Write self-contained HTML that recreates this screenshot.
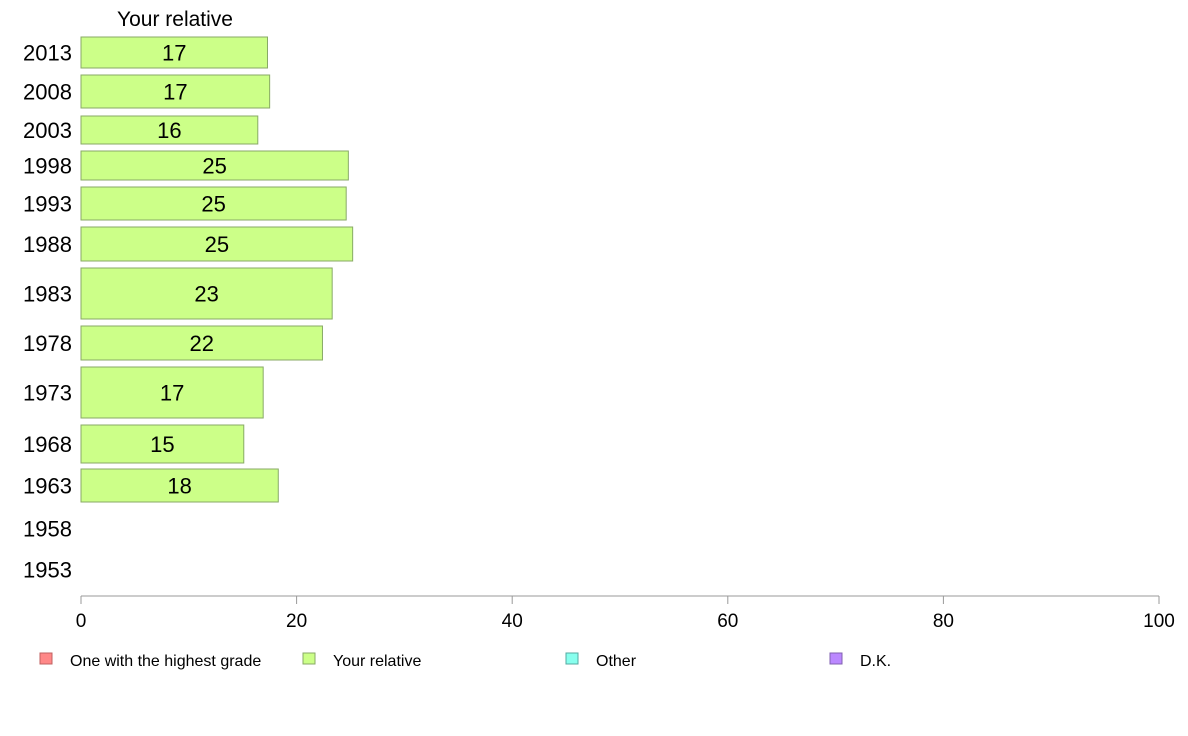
<!DOCTYPE html>
<html><head><meta charset="utf-8">
<style>
body{margin:0;background:#fff;font-family:"Liberation Sans",Arial,sans-serif;}
svg{display:block}
</style></head>
<body>
<svg id="chart" width="1188" height="736" viewBox="0 0 1188 736">
<text x="175" y="26" font-size="21" text-anchor="middle" fill="#000">Your relative</text>
<g id="bars"></g>
<g id="yaxis"></g>
<g id="xaxis"></g>
<g id="legend">
  <rect x="40" y="653" width="12" height="11" fill="#ff8888" stroke="#c06060"/>
  <text x="70" y="666" font-size="16">One with the highest grade</text>
  <rect x="303" y="653" width="12" height="11" fill="#ccff88" stroke="#88aa66"/>
  <text x="333" y="666" font-size="16">Your relative</text>
  <rect x="566" y="653" width="12" height="11" fill="#88ffee" stroke="#55aaa0"/>
  <text x="596" y="666" font-size="16">Other</text>
  <rect x="830" y="653" width="12" height="11" fill="#bb88ff" stroke="#8060b0"/>
  <text x="860" y="666" font-size="16">D.K.</text>
</g>
</svg>
<script>
const years = ["2013","2008","2003","1998","1993","1988","1983","1978","1973","1968","1963","1958","1953"];
const values = [17.3,17.5,16.4,24.8,24.6,25.2,23.3,22.4,16.9,15.1,18.3,null,null];
const valueLabels = ["17","17","16","25","25","25","23","22","17","15","18","",""];
const xTicks = [0,20,40,60,80,100];
// layout: band top/bottom per row (pixels)
const bandTop = [37,75,116,151,187,227,268,326,367,425,469,512,553];
const bandBot = [68,108,144,180,220,261,319,360,418,463,502,545,586];

const NS="http://www.w3.org/2000/svg";
const x0=81,x1=1159;
const xs=v=>x0+(x1-x0)*v/100;
function mk(tag,attrs,parent){const e=document.createElementNS(NS,tag);for(const k in attrs)e.setAttribute(k,attrs[k]);parent.appendChild(e);return e;}
const gb=document.getElementById('bars'),gy=document.getElementById('yaxis'),gx=document.getElementById('xaxis');
years.forEach((y,i)=>{
  const t=bandTop[i],b=bandBot[i],mid=(t+b)/2;
  const lab=mk('text',{x:72,y:mid+8,'font-size':22,'text-anchor':'end',fill:'#000'},gy);
  lab.textContent=y;
  
  
  if(values[i]!=null){
    const r=mk('rect',{x:xs(0),y:t,width:xs(values[i])-xs(0),height:b-t,fill:'#ccff88',stroke:'#88aa66','stroke-width':1},gb);
    
    
    const vt=mk('text',{x:(xs(0)+xs(values[i]))/2,y:mid+8,'font-size':22,'text-anchor':'middle',fill:'#000'},gb);
    vt.textContent=valueLabels[i];
    
    
  }
});
const ax=mk('line',{x1:x0,y1:596,x2:x1,y2:596,stroke:'#999','stroke-width':1},gx);


xTicks.forEach(v=>{
  const tk=mk('line',{x1:xs(v),y1:596,x2:xs(v),y2:604,stroke:'#999','stroke-width':1},gx);
  
  
  const tl=mk('text',{x:xs(v),y:627,'font-size':19,'text-anchor':'middle',fill:'#000'},gx);
  tl.textContent=v;
  
  
});
</script>
</body></html>
